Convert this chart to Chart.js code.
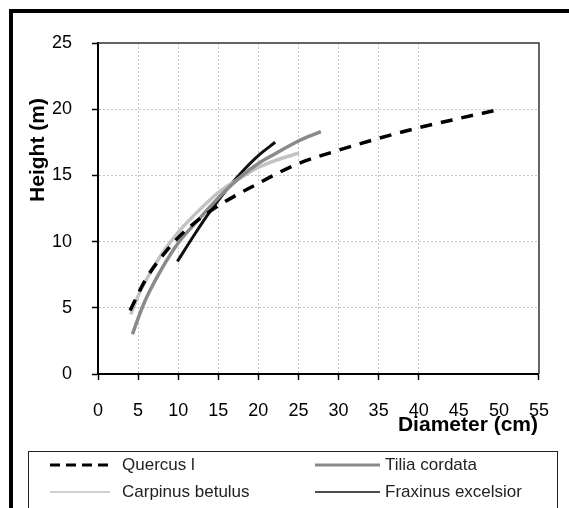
<!DOCTYPE html>
<html>
<head>
<meta charset="utf-8">
<title>Height - diameter curves</title>
<script src="https://cdn.jsdelivr.net/npm/chart.js@4.4.1/dist/chart.umd.min.js"></script>
<style>
  body { margin: 0; background: #fff; }
  #wrap { position: relative; width: 569px; height: 508px; overflow: hidden; }
  #frame { position: absolute; left: 9px; top: 9px; width: 640px; height: 640px;
           border-left: 4px solid #000; border-top: 4px solid #000; pointer-events: none; }
</style>
</head>
<body>
<div id="wrap">
  <canvas id="chart"></canvas>
  <div id="frame"></div>
</div>
<script>
// diameter (cm) / height (m) pairs for each species curve
const quercusD = [4, 6, 8, 10, 12, 15, 20, 25, 30, 35, 40, 45, 49.5];
const quercusH = [4.8, 7.2, 8.9, 10.3, 11.4, 12.7, 14.4, 15.9, 16.9, 17.8, 18.6, 19.3, 19.9];

const tiliaD = [4.3, 5, 6, 8, 10, 12, 15, 18, 20, 22, 25, 27.8];
const tiliaH = [3.0, 4.2, 5.7, 8.0, 9.9, 11.3, 13.3, 15.0, 15.9, 16.6, 17.6, 18.3];

const carpinusD = [4.1, 5, 6, 8, 10, 12, 15, 18, 20, 22, 25.1];
const carpinusH = [4.5, 5.9, 7.1, 9.1, 10.7, 12.0, 13.7, 14.9, 15.6, 16.1, 16.7];

const fraxinusD = [9.9, 12, 14, 16, 18, 20, 22.1];
const fraxinusH = [8.5, 10.5, 12.3, 13.9, 15.3, 16.5, 17.5];

const seriesNames = ['Quercus l', 'Tilia cordata', 'Carpinus betulus', 'Fraxinus excelsior'];

// x ticks that get a tick mark and a vertical grid line
const xMarked = [0, 5, 10, 15, 20, 25, 30, 35, 40, 55];

const FONT = '"Liberation Sans", Arial, sans-serif';

const pts = (xs, ys) => xs.map((x, i) => ({ x: x, y: ys[i] }));

const datasets = [
  { label: seriesNames[0], data: pts(quercusD, quercusH), borderColor: '#000', borderWidth: 3.5, borderDash: [12, 9], legendWidth: 3 },
  { label: seriesNames[1], data: pts(tiliaD, tiliaH), borderColor: '#8a8a8a', borderWidth: 3.5, legendWidth: 3 },
  { label: seriesNames[2], data: pts(carpinusD, carpinusH), borderColor: '#c2c2c2', borderWidth: 3.5, legendWidth: 1.5 },
  { label: seriesNames[3], data: pts(fraxinusD, fraxinusH), borderColor: '#111', borderWidth: 3, legendWidth: 1.5 }
];

// plot frame, axis titles and the boxed two-column legend
const decorations = {
  id: 'decorations',
  afterDraw(chart) {
    const ctx = chart.ctx;
    const a = chart.chartArea;
    ctx.save();

    ctx.strokeStyle = '#333';
    ctx.lineWidth = 1.5;
    ctx.beginPath();
    ctx.moveTo(a.left, a.top);
    ctx.lineTo(a.right, a.top);
    ctx.lineTo(a.right, a.bottom);
    ctx.stroke();

    ctx.fillStyle = '#000';
    ctx.font = 'bold 21px ' + FONT;
    ctx.textBaseline = 'middle';
    ctx.textAlign = 'center';
    ctx.save();
    ctx.translate(38, 150);
    ctx.rotate(-Math.PI / 2);
    ctx.fillText('Height (m)', 0, 0);
    ctx.restore();
    ctx.textAlign = 'right';
    ctx.fillText('Diameter (cm)', 538, 425);

    ctx.strokeStyle = '#222';
    ctx.lineWidth = 1;
    ctx.strokeRect(28.5, 451.5, 529, 60);

    const lineX = [50, 315];
    const lineLen = [60, 65];
    const textX = [122, 385];
    const rowY = [465, 492];
    ctx.font = '17px ' + FONT;
    ctx.textAlign = 'left';
    chart.data.datasets.forEach((ds, i) => {
      const col = i % 2, row = Math.floor(i / 2);
      const y = rowY[row];
      ctx.strokeStyle = ds.borderColor;
      ctx.lineWidth = ds.legendWidth;
      ctx.setLineDash(ds.borderDash ? [10, 6] : []);
      ctx.beginPath();
      ctx.moveTo(lineX[col], y);
      ctx.lineTo(lineX[col] + lineLen[col], y);
      ctx.stroke();
      ctx.setLineDash([]);
      ctx.fillStyle = '#222';
      ctx.fillText(ds.label, textX[col], y);
    });

    ctx.restore();
  }
};

new Chart(document.getElementById('chart'), {
  type: 'scatter',
  data: { datasets: datasets },
  options: {
    responsive: true,
    maintainAspectRatio: false,
    animation: false,
    showLine: true,
    elements: {
      point: { radius: 0, hoverRadius: 0 },
      line: { tension: 0.4, cubicInterpolationMode: 'monotone', fill: false, borderCapStyle: 'butt' }
    },
    layout: { padding: { left: 0, top: 43, right: 25, bottom: 84 } },
    plugins: { legend: { display: false }, tooltip: { enabled: false } },
    scales: {
      x: {
        type: 'linear',
        min: 0,
        max: 55,
        afterFit: (s) => { s.height = 50; },
        ticks: { stepSize: 5, color: '#000', padding: 20, font: { family: FONT, size: 18 } },
        grid: {
          lineWidth: 1,
          tickLength: 6,
          tickWidth: 1.5,
          color: (c) => (c.tick && c.tick.value > 0 && c.tick.value <= 40) ? '#c4c4c4' : 'rgba(0,0,0,0)',
          tickColor: (c) => (c.tick && xMarked.includes(c.tick.value)) ? '#000' : 'rgba(0,0,0,0)'
        },
        border: { color: '#000', width: 2, dash: [2, 2] }
      },
      y: {
        type: 'linear',
        min: 0,
        max: 25,
        afterFit: (s) => { s.width = 98; },
        ticks: { stepSize: 5, color: '#000', padding: 20, font: { family: FONT, size: 18 } },
        grid: {
          lineWidth: 1,
          tickLength: 6,
          tickWidth: 1.5,
          color: (c) => (c.tick && c.tick.value > 0 && c.tick.value < 25) ? '#c4c4c4' : 'rgba(0,0,0,0)',
          tickColor: '#000'
        },
        border: { color: '#000', width: 2, dash: [2, 2] }
      }
    }
  },
  plugins: [decorations]
});
</script>
</body>
</html>
